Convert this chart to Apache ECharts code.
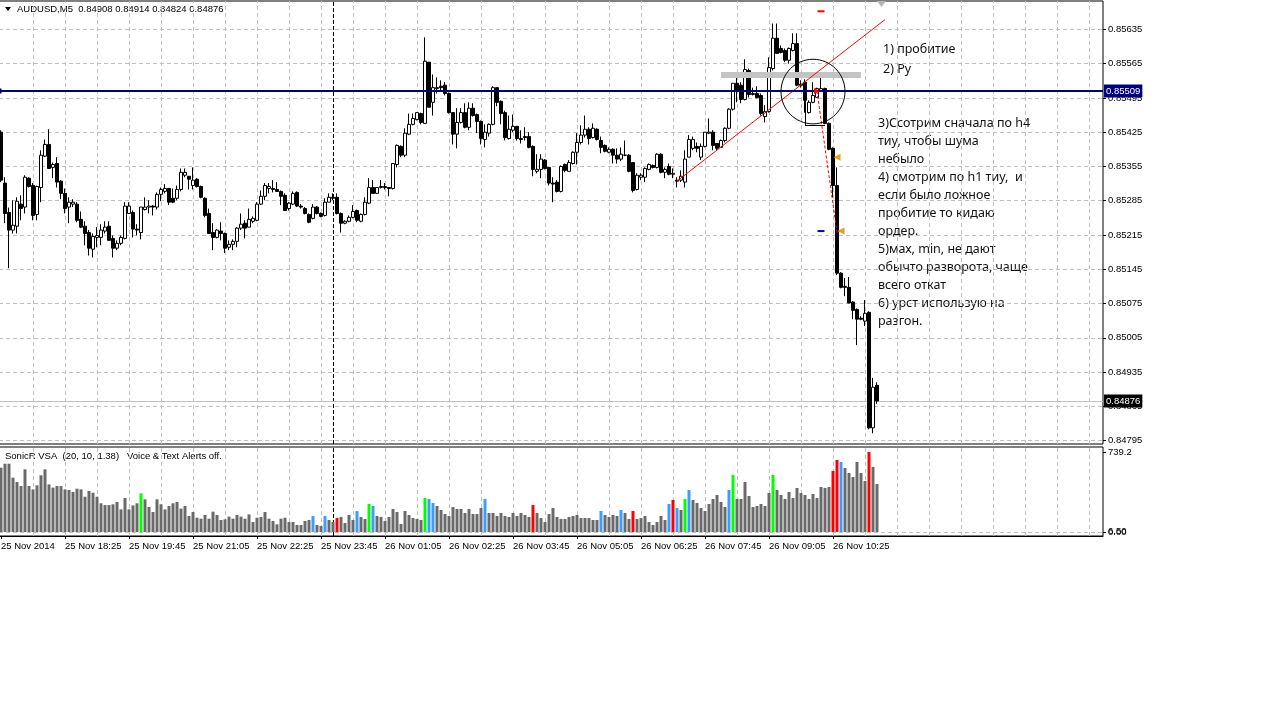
<!DOCTYPE html>
<html><head><meta charset="utf-8">
<script src="https://cdn.jsdelivr.net/npm/echarts@6/dist/echarts.min.js"></script>
<style>html,body{margin:0;padding:0;background:#fff;overflow:hidden}#c{width:1273px;height:716px}</style>
</head><body><div id="c"></div>
<script>
// ---------- data ----------
const openP = [0.85425,0.85321,0.85261,0.85225,0.85233,0.85278,0.85272,0.85331,0.85316,0.85257,
0.85312,0.85376,0.85400,0.85353,0.85361,0.85325,0.85300,0.85272,0.85278,0.85278,
0.85247,0.85233,0.85220,0.85186,0.85210,0.85210,0.85223,0.85233,0.85208,0.85188,
0.85198,0.85208,0.85259,0.85261,0.85227,0.85220,0.85267,0.85272,0.85274,0.85272,
0.85298,0.85304,0.85310,0.85290,0.85290,0.85308,0.85337,0.85335,0.85316,0.85329,
0.85314,0.85290,0.85259,0.85220,0.85210,0.85223,0.85218,0.85190,0.85196,0.85202,
0.85229,0.85239,0.85231,0.85243,0.85245,0.85278,0.85294,0.85310,0.85310,0.85308,
0.85304,0.85296,0.85269,0.85278,0.85302,0.85274,0.85269,0.85257,0.85249,0.85272,
0.85259,0.85255,0.85282,0.85292,0.85292,0.85259,0.85239,0.85243,0.85251,0.85265,
0.85243,0.85257,0.85280,0.85312,0.85300,0.85312,0.85314,0.85312,0.85310,0.85359,
0.85396,0.85378,0.85421,0.85441,0.85451,0.85463,0.85443,0.85568,0.85486,0.85514,
0.85519,0.85521,0.85504,0.85465,0.85421,0.85445,0.85465,0.85435,0.85474,0.85461,
0.85447,0.85410,0.85423,0.85441,0.85516,0.85488,0.85465,0.85412,0.85429,0.85437,
0.85412,0.85416,0.85416,0.85396,0.85345,0.85349,0.85368,0.85353,0.85321,0.85323,
0.85304,0.85359,0.85345,0.85361,0.85384,0.85404,0.85419,0.85431,0.85414,0.85431,
0.85408,0.85398,0.85384,0.85390,0.85378,0.85370,0.85378,0.85378,0.85363,0.85308,
0.85333,0.85333,0.85349,0.85357,0.85353,0.85380,0.85343,0.85355,0.85339,0.85327,
0.85327,0.85323,0.85374,0.85392,0.85396,0.85374,0.85396,0.85423,0.85425,0.85402,
0.85394,0.85408,0.85433,0.85472,0.85525,0.85521,0.85492,0.85551,0.85502,0.85504,
0.85500,0.85457,0.85467,0.85555,0.85617,0.85596,0.85592,0.85572,0.85592,0.85606,
0.85523,0.85527,0.85465,0.85486,0.85496,0.85510,0.85514,0.85443,0.85392,0.85316,
0.85137,0.85110,0.85108,0.85078,0.85063,0.85045,0.85039,0.85057,0.84821,0.84908];

const closeP = [0.85327,0.85259,0.85225,0.85235,0.85284,0.85269,0.85333,0.85314,0.85255,0.85314,
0.85378,0.85400,0.85351,0.85359,0.85323,0.85300,0.85269,0.85282,0.85282,0.85245,
0.85231,0.85218,0.85188,0.85212,0.85214,0.85225,0.85231,0.85204,0.85188,0.85198,
0.85210,0.85274,0.85274,0.85227,0.85225,0.85272,0.85272,0.85274,0.85272,0.85298,
0.85308,0.85310,0.85282,0.85282,0.85308,0.85343,0.85343,0.85329,0.85327,0.85314,
0.85292,0.85255,0.85218,0.85210,0.85225,0.85218,0.85188,0.85196,0.85202,0.85229,
0.85237,0.85229,0.85247,0.85249,0.85278,0.85294,0.85316,0.85314,0.85308,0.85304,
0.85294,0.85265,0.85280,0.85300,0.85274,0.85272,0.85259,0.85241,0.85272,0.85259,
0.85253,0.85282,0.85292,0.85290,0.85259,0.85239,0.85243,0.85251,0.85263,0.85245,
0.85257,0.85282,0.85312,0.85300,0.85312,0.85314,0.85312,0.85310,0.85361,0.85398,
0.85378,0.85423,0.85441,0.85453,0.85465,0.85445,0.85570,0.85476,0.85516,0.85516,
0.85516,0.85504,0.85465,0.85421,0.85445,0.85465,0.85435,0.85474,0.85459,0.85447,
0.85412,0.85425,0.85441,0.85516,0.85486,0.85463,0.85414,0.85431,0.85437,0.85412,
0.85410,0.85414,0.85394,0.85349,0.85349,0.85370,0.85351,0.85321,0.85319,0.85304,
0.85355,0.85347,0.85363,0.85384,0.85404,0.85419,0.85431,0.85412,0.85433,0.85410,
0.85394,0.85386,0.85390,0.85378,0.85370,0.85380,0.85378,0.85345,0.85306,0.85337,
0.85337,0.85351,0.85359,0.85353,0.85380,0.85343,0.85349,0.85339,0.85341,0.85325,
0.85335,0.85370,0.85410,0.85410,0.85392,0.85396,0.85425,0.85425,0.85398,0.85392,
0.85408,0.85433,0.85472,0.85525,0.85510,0.85492,0.85553,0.85502,0.85504,0.85496,
0.85463,0.85467,0.85557,0.85617,0.85586,0.85588,0.85572,0.85596,0.85606,0.85521,
0.85521,0.85490,0.85486,0.85500,0.85514,0.85514,0.85443,0.85390,0.85316,0.85137,
0.85108,0.85108,0.85076,0.85061,0.85043,0.85043,0.85055,0.84821,0.84904,0.84876];

const lowP = [0.85323,0.85239,0.85147,0.85218,0.85218,0.85245,0.85259,0.85312,0.85245,0.85245,
0.85282,0.85374,0.85351,0.85331,0.85312,0.85288,0.85259,0.85239,0.85272,0.85241,
0.85229,0.85194,0.85173,0.85169,0.85190,0.85194,0.85218,0.85204,0.85169,0.85184,
0.85194,0.85206,0.85259,0.85210,0.85214,0.85206,0.85265,0.85259,0.85255,0.85267,
0.85284,0.85300,0.85276,0.85280,0.85286,0.85304,0.85333,0.85308,0.85308,0.85312,
0.85290,0.85251,0.85218,0.85184,0.85208,0.85204,0.85178,0.85184,0.85184,0.85190,
0.85225,0.85208,0.85231,0.85239,0.85243,0.85276,0.85286,0.85300,0.85302,0.85304,
0.85276,0.85265,0.85265,0.85276,0.85272,0.85269,0.85257,0.85239,0.85247,0.85257,
0.85251,0.85253,0.85282,0.85286,0.85257,0.85220,0.85237,0.85241,0.85249,0.85241,
0.85241,0.85255,0.85278,0.85300,0.85300,0.85310,0.85308,0.85294,0.85308,0.85353,
0.85374,0.85374,0.85419,0.85439,0.85449,0.85441,0.85443,0.85476,0.85459,0.85504,
0.85510,0.85500,0.85463,0.85400,0.85392,0.85443,0.85433,0.85429,0.85457,0.85423,
0.85400,0.85394,0.85416,0.85439,0.85478,0.85441,0.85408,0.85410,0.85425,0.85408,
0.85402,0.85408,0.85392,0.85335,0.85341,0.85331,0.85349,0.85316,0.85282,0.85302,
0.85302,0.85343,0.85345,0.85359,0.85359,0.85400,0.85414,0.85400,0.85412,0.85408,
0.85382,0.85384,0.85382,0.85361,0.85361,0.85366,0.85376,0.85343,0.85302,0.85306,
0.85327,0.85323,0.85347,0.85351,0.85351,0.85341,0.85331,0.85337,0.85331,0.85312,
0.85323,0.85312,0.85374,0.85388,0.85384,0.85368,0.85394,0.85421,0.85388,0.85388,
0.85394,0.85404,0.85431,0.85469,0.85486,0.85484,0.85490,0.85496,0.85500,0.85494,
0.85459,0.85445,0.85465,0.85551,0.85586,0.85586,0.85568,0.85565,0.85590,0.85519,
0.85516,0.85465,0.85463,0.85484,0.85496,0.85508,0.85441,0.85388,0.85292,0.85133,
0.85106,0.85090,0.85076,0.85043,0.84990,0.85041,0.85029,0.84818,0.84810,0.84870];

const highP = [0.85429,0.85333,0.85271,0.85286,0.85292,0.85296,0.85337,0.85333,0.85321,0.85316,
0.85388,0.85410,0.85431,0.85363,0.85374,0.85327,0.85310,0.85292,0.85288,0.85282,
0.85263,0.85243,0.85225,0.85218,0.85231,0.85237,0.85243,0.85243,0.85214,0.85204,
0.85214,0.85282,0.85282,0.85265,0.85237,0.85272,0.85292,0.85286,0.85276,0.85302,
0.85312,0.85319,0.85310,0.85310,0.85316,0.85351,0.85351,0.85335,0.85353,0.85331,
0.85316,0.85292,0.85269,0.85239,0.85227,0.85241,0.85220,0.85204,0.85206,0.85231,
0.85259,0.85245,0.85269,0.85253,0.85282,0.85306,0.85321,0.85321,0.85327,0.85323,
0.85306,0.85300,0.85282,0.85304,0.85304,0.85278,0.85272,0.85259,0.85278,0.85274,
0.85261,0.85290,0.85300,0.85300,0.85300,0.85261,0.85245,0.85255,0.85276,0.85267,
0.85259,0.85292,0.85331,0.85327,0.85312,0.85327,0.85321,0.85312,0.85361,0.85400,
0.85398,0.85433,0.85463,0.85463,0.85465,0.85465,0.85619,0.85568,0.85543,0.85537,
0.85531,0.85527,0.85506,0.85465,0.85474,0.85474,0.85484,0.85486,0.85484,0.85463,
0.85449,0.85441,0.85443,0.85519,0.85516,0.85490,0.85469,0.85459,0.85461,0.85437,
0.85429,0.85435,0.85425,0.85398,0.85380,0.85380,0.85370,0.85353,0.85333,0.85327,
0.85357,0.85361,0.85368,0.85386,0.85423,0.85439,0.85459,0.85435,0.85443,0.85433,
0.85416,0.85400,0.85394,0.85392,0.85392,0.85394,0.85408,0.85380,0.85363,0.85341,
0.85341,0.85353,0.85361,0.85359,0.85382,0.85382,0.85353,0.85361,0.85351,0.85333,
0.85347,0.85388,0.85419,0.85416,0.85404,0.85402,0.85425,0.85453,0.85429,0.85402,
0.85410,0.85435,0.85474,0.85525,0.85537,0.85527,0.85574,0.85555,0.85516,0.85519,
0.85504,0.85480,0.85578,0.85647,0.85647,0.85602,0.85596,0.85598,0.85627,0.85627,
0.85531,0.85533,0.85490,0.85527,0.85516,0.85547,0.85516,0.85445,0.85394,0.85353,
0.85139,0.85127,0.85129,0.85080,0.85065,0.85049,0.85082,0.85059,0.84923,0.84914];

const volumes = [594,631,631,502,462,425,579,425,394,431,
524,579,440,410,425,425,394,388,370,400,
394,326,379,363,326,265,249,249,256,277,
209,314,209,246,265,357,302,231,185,302,
256,209,240,265,277,216,240,148,185,132,
123,157,123,188,157,111,117,142,123,157,
142,123,163,92,132,139,185,123,102,71,
123,132,92,92,65,65,102,111,148,65,
55,148,111,92,129,139,83,157,111,194,
139,120,259,240,148,139,102,139,213,185,
74,194,157,129,120,111,314,305,268,240,
203,166,148,231,213,213,176,213,166,166,
222,305,176,176,148,176,148,139,176,148,
176,157,139,249,176,129,92,166,222,139,
120,120,139,148,157,129,129,129,111,111,
194,157,139,157,148,203,176,120,194,120,
129,148,92,65,92,148,111,259,296,222,
203,305,388,296,268,222,194,259,305,342,
277,231,388,527,305,305,462,333,231,240,
259,240,360,527,388,342,305,370,314,407,
360,342,305,351,314,416,407,416,564,665,
647,591,545,508,647,545,471,739.2,601,444];

// VSA signal bars (by bar index)
const greenBars = [35,92,106,171,183,193];
const blueBars  = [78,81,89,93,107,108,121,150,155,167,169,172,182,210];
const redBars   = [84,133,158,168,208,209,217];

// axis ticks
const priceTicks = [0.85635,0.85565,0.85495,0.85425,0.85355,0.85285,0.85215,0.85145,0.85075,0.85005,0.84935,0.84865,0.84795];
const volTicks = [6.5, 739.2];
const volTickText = {6.5:'6.50', 739.2:'739.2'};
const levelLine = 0.85509;   // horizontal line object
const bidPrice = 0.84876;    // last price
const headerText = 'AUDUSD,M5  0.84908 0.84914 0.84824 0.84876';
const indicatorText = 'SonicR VSA  (20, 10, 1.38)   Voice & Text Alerts off.';
const notesTop = ['1) пробитие','2) Ру'];
const notes = ['3)Ссотрим сначала по h4','тиу, чтобы шума','небыло','4) смотрим по h1 тиу,  и','если было ложное','пробитие то кидаю','ордер.','5)мах, min, не дают','обычто разворота, чаще','всего откат','6) урст использую на','разгон.'];

// time slots (M5 bars, with empty chart shift on the right)
const SLOTS = 276;
const START = Date.UTC(2014,10,25,17,5);
const MON = ['Jan','Feb','Mar','Apr','May','Jun','Jul','Aug','Sep','Oct','Nov','Dec'];
const pad = n => (n<10?'0':'')+n;
const categories = [];
for (let i=0;i<SLOTS;i++){
  const d = new Date(START + i*300000);
  categories.push(d.getUTCDate()+' '+MON[d.getUTCMonth()]+' '+pad(d.getUTCHours())+':'+pad(d.getUTCMinutes()));
}
const nBars = openP.length;
const vGrid = []; for (let i=8;i<SLOTS;i+=8) vGrid.push(i);
const SEP = 83; // day separator 26 Nov 00:00
const showTime = idx => idx % 16 === 0 && idx < nBars;

const FONT = '"Liberation Sans", Arial, sans-serif';
const candleData = openP.map((o,i)=>[o, closeP[i], lowP[i], highP[i]]);
const volColor = i => greenBars.includes(i) ? '#00ff00' : blueBars.includes(i) ? '#3d9cff' : redBars.includes(i) ? '#ff0000' : '#6a6a6a';
const volData = volumes.map((v,i)=>({value:v, itemStyle:{color:volColor(i)}}));

const chart = echarts.init(document.getElementById('c'), null, {renderer:'canvas'});
const gridLine = {color:'#c0c0c0', width:1, type:[4,3]};
const sepLine = {color:'#000', width:1, type:[4,2]};
const axisFont = {fontSize:9.5, fontFamily:FONT, color:'#000'};

chart.setOption({
  animation:false,
  backgroundColor:'#fff',
  grid:[
    {left:-1, top:1, width:1104, height:443, show:true, borderColor:'#000', borderWidth:1, backgroundColor:'transparent', outerBoundsMode:'none', containLabel:false},
    {left:-1, top:447, width:1104, height:89, show:true, borderColor:'#000', borderWidth:1, backgroundColor:'transparent', outerBoundsMode:'none', containLabel:false}
  ],
  xAxis:[
    {type:'category', gridIndex:0, data:categories, boundaryGap:true, axisLine:{show:false}, axisTick:{show:false}, axisLabel:{show:false}, splitLine:{show:false}},
    {type:'category', gridIndex:1, data:categories, boundaryGap:true, position:'bottom',
     axisLine:{show:true, onZero:false, lineStyle:{color:'#000', width:1}},
     axisTick:{show:true, interval:(idx)=>showTime(idx), alignWithLabel:true, length:3, lineStyle:{color:'#000'}},
     axisLabel:Object.assign({interval:(idx)=>showTime(idx), align:'left', margin:5,
       formatter:(v,idx)=> idx===0 ? '25 Nov 2014' : v}, axisFont),
     splitLine:{show:false}}
  ],
  yAxis:[
    {type:'value', gridIndex:0, position:'right', min:0.84788, max:0.85693, scale:true,
     axisLine:{show:false}, splitLine:{show:false},
     axisTick:{show:true, customValues:priceTicks, length:3, lineStyle:{color:'#000'}},
     axisLabel:Object.assign({show:true, customValues:priceTicks, formatter:v=>v.toFixed(5), margin:5}, axisFont)},
    {type:'value', gridIndex:1, position:'right', min:-37, max:785.4,
     axisLine:{show:false}, splitLine:{show:false},
     axisTick:{show:true, customValues:[0,739.2], length:3, lineStyle:{color:'#000'}},
     axisLabel:Object.assign({show:true, customValues:volTicks, formatter:v=>volTickText[v] || '', margin:5}, axisFont)}
  ],
  series:[
    // background grid + separators + bid line (behind candles)
    {type:'line', xAxisIndex:0, yAxisIndex:0, data:[], silent:true,
     markLine:{z:1, precision:6, silent:true, symbol:'none', animation:false, label:{show:false},
       data:[
         ...priceTicks.map(v=>({yAxis:v, lineStyle:gridLine})),
         ...vGrid.map(i=>({xAxis:i, lineStyle:gridLine})),
         {xAxis:SEP, lineStyle:sepLine},
         {yAxis:bidPrice, lineStyle:{color:'#c0c0c0', width:1, type:'solid'},
          label:{show:true, position:'end', distance:1, formatter:bidPrice.toFixed(5), color:'#fff', backgroundColor:'#000', padding:[2,2,1,2], fontSize:9.5, fontFamily:FONT}}
       ]}},
    {type:'candlestick', name:'AUDUSD,M5', xAxisIndex:0, yAxisIndex:0, data:candleData, barWidth:3, z:2,
     itemStyle:{color:'#fff', color0:'#000', borderColor:'#000', borderColor0:'#000', borderWidth:1}},
    // chart objects
    {type:'line', xAxisIndex:0, yAxisIndex:0, data:[], silent:true,
     markLine:{z:6, precision:6, silent:true, symbol:'none', animation:false, label:{show:false},
       data:[
         [{coord:[180,0.85542]},{coord:[215,0.85542], lineStyle:{color:'#c4c4c4', width:6, type:'solid', cap:'butt'}}],
         [{coord:[169,0.85325]},{coord:[221,0.85655], lineStyle:{color:'#ff0000', width:1, type:'solid'}}],
         [{coord:[204,0.85509]},{coord:[209,0.85220], lineStyle:{color:'#ff0000', width:1, type:[3,2]}}],
         [{coord:[201,0.85490]},{coord:[201,0.85439], lineStyle:{color:'#000', width:1, type:'solid'}}],
         [{coord:[201,0.85439]},{coord:[206,0.85439], lineStyle:{color:'#000', width:1, type:'solid'}}],
         {yAxis:levelLine, symbol:['emptyRect','emptyRect'], symbolSize:5, lineStyle:{color:'#000080', width:2, type:'solid'},
          label:{show:true, position:'end', distance:1, formatter:levelLine.toFixed(5), color:'#fff', backgroundColor:'#000080', padding:[2,2,1,2], fontSize:9.5, fontFamily:FONT}}
       ]},
     markPoint:{z:7, silent:true, animation:false, label:{show:false},
       data:[
         {coord:[209,0.85374], symbol:'triangle', symbolRotate:90, symbolSize:[7,7], itemStyle:{color:'#e0a020'}},
         {coord:[210,0.85223], symbol:'triangle', symbolRotate:90, symbolSize:[7,7], itemStyle:{color:'#e0a020'}},
         {coord:[205,0.85672], symbol:'rect', symbolSize:[7,2], itemStyle:{color:'#ff0000'}},
         {coord:[205,0.85223], symbol:'rect', symbolSize:[7,2], itemStyle:{color:'#0000c0'}},
         {coord:[204,0.85509], symbol:'triangle', symbolRotate:-90, symbolSize:[6,6], itemStyle:{color:'#ff0000'}}
       ]}},
    // indicator window
    {type:'line', xAxisIndex:1, yAxisIndex:1, data:[], silent:true,
     markLine:{z:1, precision:6, silent:true, symbol:'none', animation:false, label:{show:false},
       data:[
         ...vGrid.map(i=>({xAxis:i, lineStyle:gridLine})),
         {xAxis:SEP, lineStyle:sepLine},
         {yAxis:0, lineStyle:gridLine,
          label:{show:true, position:'end', distance:5, formatter:'0.00', color:'#000', fontSize:9.5, fontFamily:FONT}}
       ]}},
    {type:'bar', name:'SonicR VSA', xAxisIndex:1, yAxisIndex:1, data:volData, barWidth:3, z:2}
  ]
});

// annotation shapes positioned through the chart's own scales
const cen = chart.convertToPixel({gridIndex:0}, [203, 0.85508]);
const lft = chart.convertToPixel({gridIndex:0}, [195, 0.85508]);
const topP = chart.convertToPixel({gridIndex:0}, [203, 0.85574]);
const graphics = [
  {type:'polygon', shape:{points:[[5,7],[11,7],[8,11]]}, style:{fill:'#000'}, silent:true},
  {type:'text', x:17, y:9, style:{text:headerText, font:'9.5px '+FONT, fill:'#000', verticalAlign:'middle'}, silent:true},
  {type:'text', x:5, y:456, style:{text:indicatorText, font:'9.5px '+FONT, fill:'#000', verticalAlign:'middle'}, silent:true},
  {type:'polygon', shape:{points:[[877,1],[886,1],[881.5,7]]}, style:{fill:'#b4b4b4'}, silent:true},
  {type:'ellipse', shape:{cx:cen[0], cy:cen[1], rx:Math.abs(cen[0]-lft[0]), ry:Math.abs(cen[1]-topP[1])}, style:{fill:'none', stroke:'#000', lineWidth:1}, z:20, silent:true}
];
notesTop.forEach((t,k)=>graphics.push({type:'text', x:883, y:49+k*20, style:{text:t, font:'12.5px "Noto Sans", sans-serif', fill:'#111', verticalAlign:'middle'}, silent:true}));
notes.forEach((t,k)=>graphics.push({type:'text', x:878, y:123+k*18, style:{text:t, font:'12.5px "Noto Sans", sans-serif', fill:'#111', verticalAlign:'middle'}, silent:true}));
chart.setOption({graphic:graphics});
</script>
</body></html>
